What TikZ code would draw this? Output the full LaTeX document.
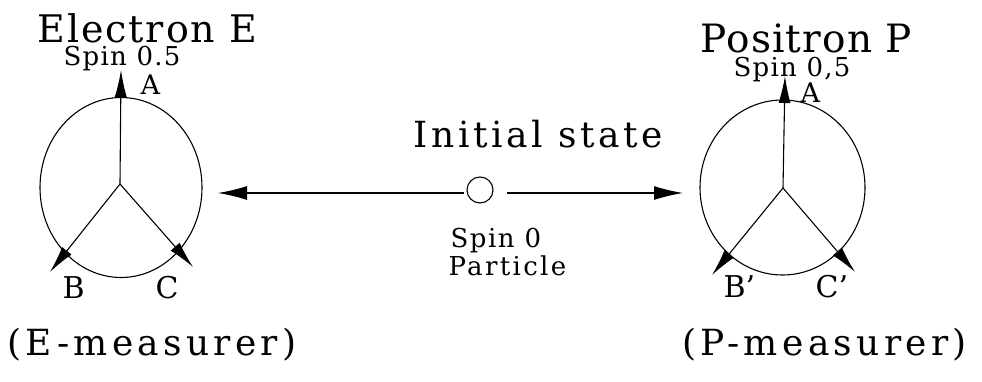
\documentclass[tikz,border=0pt]{standalone}
\usepackage{fontspec}
\setmainfont{DejaVu Serif}
\newfontfamily\fElec[LetterSpace=5]{DejaVu Serif}
\newfontfamily\fPosi[LetterSpace=3]{DejaVu Serif}
\newfontfamily\fSpinh[LetterSpace=5]{DejaVu Serif}
\newfontfamily\fInit[LetterSpace=10]{DejaVu Serif}
\newfontfamily\fMeas[LetterSpace=12]{DejaVu Serif}
\newfontfamily\fSpin[LetterSpace=6]{DejaVu Serif}
\newfontfamily\fPart[LetterSpace=9]{DejaVu Serif}
\usetikzlibrary{arrows.meta,shapes.geometric}
\newcommand{\fsz}[1]{\fontsize{#1}{#1}\selectfont}
\begin{document}
\begin{tikzpicture}[x=1pt,y=-1pt, line width=1.1pt,
  txt/.style={inner sep=0pt, anchor=base west},
  spoke/.style={-{Latex[length=27pt,width=12pt]}},
  ring/.style={draw, ellipse, inner sep=0pt, line width=1.1pt},
  flow/.style={-{Latex[length=29pt,width=14pt]}}]
\useasboundingbox (0,0) rectangle (982,382);
% ---- left measurer
\node[ring, minimum width=162pt, minimum height=180pt] (EL) at (121,187.5) {};
\coordinate (ec) at (120,184);
\coordinate (ea) at (121,70);
\coordinate (eb) at (50,272);
\coordinate (ecc) at (193,267);
\draw[spoke] (ec) -- (ea);
\draw[spoke] (ec) -- (eb);
\draw[spoke] (ec) -- (ecc);
\node[txt, font=\fElec\fsz{38}] (eT) at (37,43) {Electron E};
\node[txt, font=\fSpinh\fsz{26}] (eS) at (63,66) {Spin 0.5};
\node[txt, font=\fsz{27}] (eA) at (140,95) {A};
\node[txt, font=\fsz{30}] (eB) at (62,298) {B};
\node[txt, font=\fsz{30}] (eC) at (155,298) {C};
\node[txt, font=\fMeas\fsz{36}] (eM) at (7,355) {(E-measurer)};
% ---- right measurer
\node[ring, minimum width=165pt, minimum height=175pt] (PL) at (782.5,187.5) {};
\coordinate (pc) at (783,188);
\coordinate (pa) at (785,76);
\coordinate (pb) at (712,275);
\coordinate (pcc) at (855,272);
\draw[spoke] (pc) -- (pa);
\draw[spoke] (pc) -- (pb);
\draw[spoke] (pc) -- (pcc);
\node[txt, font=\fPosi\fsz{39}] (pT) at (700,53) {Positron P};
\node[txt, font=\fSpinh\fsz{26}] (pS) at (733,77) {Spin 0,5};
\node[txt, font=\fsz{27}] (pA) at (800,103) {A};
\node[txt, font=\fsz{30}] (pB) at (723,297) {B'};
\node[txt, font=\fsz{30}] (pC) at (815,297) {C'};
\node[txt, font=\fMeas\fsz{36}] (pM) at (682,355) {(P-measurer)};
% ---- middle
\node[draw, circle, minimum size=26pt, inner sep=0pt] (s0) at (480,190) {};
\coordinate (lt) at (218,193);
\coordinate (rt) at (683,193);
\draw[flow] ([xshift=-16pt]s0.center |- lt) -- (lt);
\draw[flow] ([xshift=27pt]s0.center |- rt) -- (rt);
\node[txt, font=\fInit\fsz{36}] (iT) at (413,148) {Initial state};
\node[txt, font=\fSpin\fsz{26}] (iS) at (450,247) {Spin 0};
\node[txt, font=\fPart\fsz{26}] (iP) at (448,275) {Particle};
\end{tikzpicture}
\end{document}
